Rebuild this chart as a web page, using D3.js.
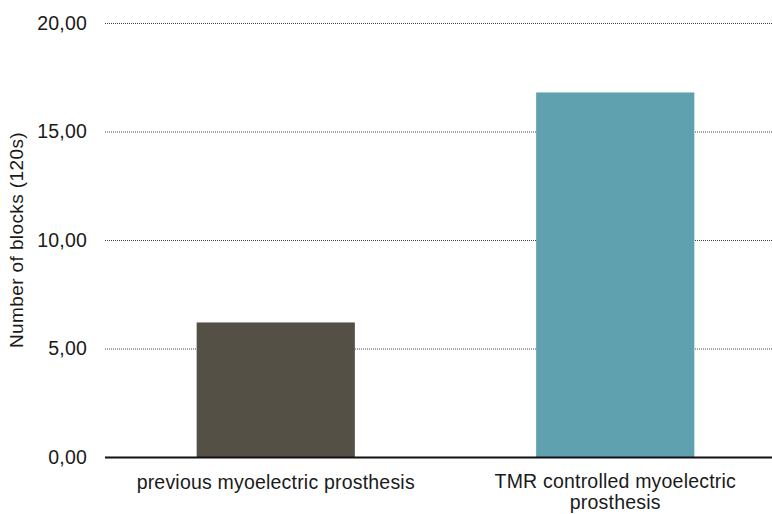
<!DOCTYPE html>
<html>
<head>
<meta charset="utf-8">
<script src="https://cdn.jsdelivr.net/npm/d3@7"></script>
<style>
  body { margin: 0; background: #fff; }
  text { font-family: "Liberation Sans", Arial, sans-serif; fill: #1a1a1a; }
</style>
</head>
<body>
<div id="container"></div>
<script>
/* CONSTANTS AND GLOBALS */
const width = 772,
  height = 514,
  margin = { top: 23, bottom: 57, left: 105, right: 0 };

/* DATA */
const categories = ["previous myoelectric prosthesis", "TMR controlled myoelectric prosthesis"];
const values = [6.2, 16.8];
const barColors = ["#545045", "#5fa1ae"];
const yTicks = [0, 5, 10, 15, 20];
const yTitle = "Number of blocks (120s)";

/* SCALES */
// the band range runs past the right edge, the original plot is cropped there
const xScale = d3.scaleBand()
  .domain(categories)
  .range([106, 785])
  .paddingInner(0.534)
  .paddingOuter(0.267);

const yScale = d3.scaleLinear()
  .domain([0, 20])
  .range([height - margin.bottom, margin.top]);

const fmt = d => d3.format(".2f")(d).replace(".", ",");

/* SVG */
const svg = d3.select("#container")
  .append("svg")
  .attr("width", width)
  .attr("height", height);

// gridlines
svg.append("g")
  .selectAll("line.grid")
  .data(yTicks.filter(d => d > 0))
  .join("line")
  .attr("class", "grid")
  .attr("x1", margin.left)
  .attr("x2", width)
  .attr("y1", d => yScale(d) + 0.5)
  .attr("y2", d => yScale(d) + 0.5)
  .attr("stroke", "#444")
  .attr("stroke-width", 1)
  .attr("stroke-dasharray", "1,1");

// y axis labels
const yAxis = d3.axisLeft(yScale)
  .tickValues(yTicks)
  .tickFormat(fmt)
  .tickSize(0)
  .tickPadding(0);

svg.append("g")
  .attr("transform", `translate(87,0)`)
  .call(yAxis)
  .call(g => g.select(".domain").remove())
  .call(g => g.selectAll("text")
    .attr("font-size", "19.5px")
    .attr("letter-spacing", "0.2px")
    .attr("fill", "#1a1a1a")
    .attr("font-family", "Liberation Sans, Arial, sans-serif"));

// bars
svg.selectAll("rect.bar")
  .data(values)
  .join("rect")
  .attr("class", "bar")
  .attr("x", (d, i) => xScale(categories[i]))
  .attr("width", xScale.bandwidth())
  .attr("y", d => yScale(d))
  .attr("height", d => yScale(0) - yScale(d))
  .attr("fill", (d, i) => barColors[i]);

// baseline
svg.append("line")
  .attr("x1", margin.left)
  .attr("x2", width)
  .attr("y1", yScale(0) + 0.5)
  .attr("y2", yScale(0) + 0.5)
  .attr("stroke", "#111")
  .attr("stroke-width", 2);

// category labels, wrapped
const maxLine = 290;
const labels = svg.append("g")
  .selectAll("text.cat")
  .data(categories)
  .join("text")
  .attr("class", "cat")
  .attr("text-anchor", "middle")
  .attr("font-size", "19.5px")
  .attr("letter-spacing", "0.2px")
  .attr("x", d => xScale(d) + xScale.bandwidth() / 2)
  .attr("y", yScale(0) + 32);

labels.each(function (d) {
  const t = d3.select(this);
  const x = t.attr("x");
  const words = d.split(" ");
  let line = [];
  let lineNo = 0;
  let tspan = t.append("tspan").attr("x", x).attr("dy", 0);
  words.forEach(w => {
    line.push(w);
    tspan.text(line.join(" "));
    if (tspan.node().getComputedTextLength() > maxLine && line.length > 1) {
      line.pop();
      tspan.text(line.join(" "));
      line = [w];
      lineNo++;
      tspan = t.append("tspan").attr("x", x).attr("dy", 21).text(w);
    }
  });
  if (lineNo > 0) t.attr("y", yScale(0) + 31);
});

// y axis title
svg.append("text")
  .attr("transform", `translate(23,${(yScale(0) + yScale(20)) / 2}) rotate(-90)`)
  .attr("text-anchor", "middle")
  .attr("font-size", "19px")
  .attr("letter-spacing", "0.4px")
  .text(yTitle);
</script>
</body>
</html>
